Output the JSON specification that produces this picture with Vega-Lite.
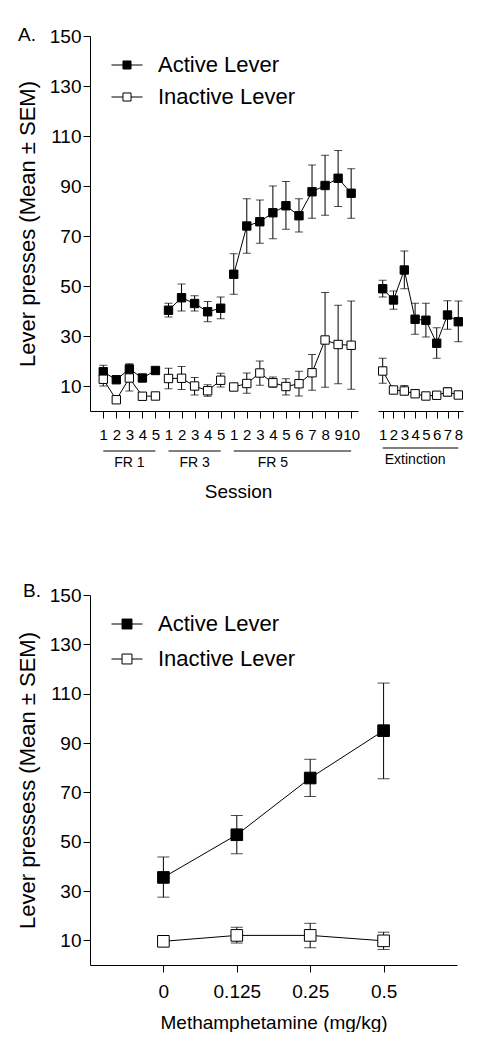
{
  "$schema": "https://vega.github.io/schema/vega-lite/v6.json",
  "background": "white",
  "padding": {"left": 16, "top": 26, "right": 0, "bottom": 0},
  "autosize": {"type": "pad"},
  "config": {
    "font": "Liberation Sans",
    "view": {"stroke": null},
    "axis": {"domainColor": "black", "tickColor": "black", "labelColor": "black", "titleColor": "black", "grid": false, "titleFontWeight": "normal", "domainWidth": 1, "tickWidth": 1},
    "title": {"fontWeight": "normal", "color": "black"},
    "text": {"color": "black"}
  },
  "datasets": {
    "A": [
      {"phase": "FR1", "session": 1, "key": "FR1|1", "lever": "Active Lever", "mean": 15.7, "lo": 13.2, "hi": 18.3},
      {"phase": "FR1", "session": 2, "key": "FR1|2", "lever": "Active Lever", "mean": 12.5, "lo": 11.5, "hi": 13.5},
      {"phase": "FR1", "session": 3, "key": "FR1|3", "lever": "Active Lever", "mean": 16.8, "lo": 14.8, "hi": 18.9},
      {"phase": "FR1", "session": 4, "key": "FR1|4", "lever": "Active Lever", "mean": 13.2, "lo": 12.2, "hi": 14.2},
      {"phase": "FR1", "session": 5, "key": "FR1|5", "lever": "Active Lever", "mean": 16.2, "lo": 15.4, "hi": 17.0},
      {"phase": "FR1", "session": 1, "key": "FR1|1", "lever": "Inactive Lever", "mean": 12.7, "lo": 10.0, "hi": 15.4},
      {"phase": "FR1", "session": 2, "key": "FR1|2", "lever": "Inactive Lever", "mean": 4.5, "lo": 3.8, "hi": 5.2},
      {"phase": "FR1", "session": 3, "key": "FR1|3", "lever": "Inactive Lever", "mean": 13.2, "lo": 8.0, "hi": 18.4},
      {"phase": "FR1", "session": 4, "key": "FR1|4", "lever": "Inactive Lever", "mean": 5.9, "lo": 5.0, "hi": 6.8},
      {"phase": "FR1", "session": 5, "key": "FR1|5", "lever": "Inactive Lever", "mean": 6.0, "lo": 5.3, "hi": 6.7},
      {"phase": "FR3", "session": 1, "key": "FR3|1", "lever": "Active Lever", "mean": 40.3, "lo": 37.6, "hi": 43.1},
      {"phase": "FR3", "session": 2, "key": "FR3|2", "lever": "Active Lever", "mean": 45.3, "lo": 40.0, "hi": 50.8},
      {"phase": "FR3", "session": 3, "key": "FR3|3", "lever": "Active Lever", "mean": 43.0, "lo": 40.0, "hi": 46.1},
      {"phase": "FR3", "session": 4, "key": "FR3|4", "lever": "Active Lever", "mean": 39.7, "lo": 35.7, "hi": 43.8},
      {"phase": "FR3", "session": 5, "key": "FR3|5", "lever": "Active Lever", "mean": 41.1, "lo": 36.9, "hi": 45.6},
      {"phase": "FR3", "session": 1, "key": "FR3|1", "lever": "Inactive Lever", "mean": 13.0, "lo": 8.9, "hi": 17.1},
      {"phase": "FR3", "session": 2, "key": "FR3|2", "lever": "Inactive Lever", "mean": 13.1, "lo": 8.6, "hi": 17.8},
      {"phase": "FR3", "session": 3, "key": "FR3|3", "lever": "Inactive Lever", "mean": 10.0, "lo": 6.4, "hi": 13.4},
      {"phase": "FR3", "session": 4, "key": "FR3|4", "lever": "Inactive Lever", "mean": 8.1, "lo": 5.9, "hi": 10.5},
      {"phase": "FR3", "session": 5, "key": "FR3|5", "lever": "Inactive Lever", "mean": 12.3, "lo": 9.6, "hi": 15.1},
      {"phase": "FR5", "session": 1, "key": "FR5|1", "lever": "Active Lever", "mean": 54.7, "lo": 46.7, "hi": 62.9},
      {"phase": "FR5", "session": 2, "key": "FR5|2", "lever": "Active Lever", "mean": 74.0, "lo": 63.1, "hi": 84.9},
      {"phase": "FR5", "session": 3, "key": "FR5|3", "lever": "Active Lever", "mean": 75.7, "lo": 67.1, "hi": 84.4},
      {"phase": "FR5", "session": 4, "key": "FR5|4", "lever": "Active Lever", "mean": 79.3, "lo": 68.9, "hi": 90.0},
      {"phase": "FR5", "session": 5, "key": "FR5|5", "lever": "Active Lever", "mean": 82.1, "lo": 72.7, "hi": 91.8},
      {"phase": "FR5", "session": 6, "key": "FR5|6", "lever": "Active Lever", "mean": 78.1, "lo": 71.6, "hi": 84.9},
      {"phase": "FR5", "session": 7, "key": "FR5|7", "lever": "Active Lever", "mean": 87.7, "lo": 77.1, "hi": 98.4},
      {"phase": "FR5", "session": 8, "key": "FR5|8", "lever": "Active Lever", "mean": 90.2, "lo": 78.3, "hi": 102.3},
      {"phase": "FR5", "session": 9, "key": "FR5|9", "lever": "Active Lever", "mean": 93.1, "lo": 81.8, "hi": 104.2},
      {"phase": "FR5", "session": 10, "key": "FR5|10", "lever": "Active Lever", "mean": 87.1, "lo": 77.1, "hi": 96.9},
      {"phase": "FR5", "session": 1, "key": "FR5|1", "lever": "Inactive Lever", "mean": 9.6, "lo": 8.6, "hi": 10.6},
      {"phase": "FR5", "session": 2, "key": "FR5|2", "lever": "Inactive Lever", "mean": 11.0, "lo": 7.1, "hi": 15.2},
      {"phase": "FR5", "session": 3, "key": "FR5|3", "lever": "Inactive Lever", "mean": 15.2, "lo": 10.3, "hi": 20.0},
      {"phase": "FR5", "session": 4, "key": "FR5|4", "lever": "Inactive Lever", "mean": 11.3, "lo": 9.5, "hi": 13.6},
      {"phase": "FR5", "session": 5, "key": "FR5|5", "lever": "Inactive Lever", "mean": 9.8, "lo": 6.4, "hi": 12.9},
      {"phase": "FR5", "session": 6, "key": "FR5|6", "lever": "Inactive Lever", "mean": 10.9, "lo": 6.0, "hi": 15.9},
      {"phase": "FR5", "session": 7, "key": "FR5|7", "lever": "Inactive Lever", "mean": 15.3, "lo": 8.3, "hi": 22.6},
      {"phase": "FR5", "session": 8, "key": "FR5|8", "lever": "Inactive Lever", "mean": 28.4, "lo": 9.5, "hi": 47.4},
      {"phase": "FR5", "session": 9, "key": "FR5|9", "lever": "Inactive Lever", "mean": 26.6, "lo": 10.9, "hi": 42.3},
      {"phase": "FR5", "session": 10, "key": "FR5|10", "lever": "Inactive Lever", "mean": 26.3, "lo": 8.7, "hi": 44.0},
      {"phase": "Extinction", "session": 1, "key": "Extinction|1", "lever": "Active Lever", "mean": 48.9, "lo": 45.6, "hi": 52.3},
      {"phase": "Extinction", "session": 2, "key": "Extinction|2", "lever": "Active Lever", "mean": 44.4, "lo": 40.7, "hi": 48.0},
      {"phase": "Extinction", "session": 3, "key": "Extinction|3", "lever": "Active Lever", "mean": 56.4, "lo": 48.9, "hi": 64.0},
      {"phase": "Extinction", "session": 4, "key": "Extinction|4", "lever": "Active Lever", "mean": 36.7, "lo": 30.7, "hi": 43.1},
      {"phase": "Extinction", "session": 5, "key": "Extinction|5", "lever": "Active Lever", "mean": 36.3, "lo": 29.6, "hi": 43.1},
      {"phase": "Extinction", "session": 6, "key": "Extinction|6", "lever": "Active Lever", "mean": 27.1, "lo": 21.1, "hi": 33.3},
      {"phase": "Extinction", "session": 7, "key": "Extinction|7", "lever": "Active Lever", "mean": 38.4, "lo": 32.7, "hi": 44.1},
      {"phase": "Extinction", "session": 8, "key": "Extinction|8", "lever": "Active Lever", "mean": 35.7, "lo": 27.7, "hi": 44.0},
      {"phase": "Extinction", "session": 1, "key": "Extinction|1", "lever": "Inactive Lever", "mean": 16.0, "lo": 11.1, "hi": 21.1},
      {"phase": "Extinction", "session": 2, "key": "Extinction|2", "lever": "Inactive Lever", "mean": 8.4, "lo": 7.4, "hi": 9.4},
      {"phase": "Extinction", "session": 3, "key": "Extinction|3", "lever": "Inactive Lever", "mean": 8.0, "lo": 6.5, "hi": 10.2},
      {"phase": "Extinction", "session": 4, "key": "Extinction|4", "lever": "Inactive Lever", "mean": 6.9, "lo": 6.1, "hi": 7.7},
      {"phase": "Extinction", "session": 5, "key": "Extinction|5", "lever": "Inactive Lever", "mean": 6.0, "lo": 5.2, "hi": 6.8},
      {"phase": "Extinction", "session": 6, "key": "Extinction|6", "lever": "Inactive Lever", "mean": 6.3, "lo": 5.5, "hi": 7.1},
      {"phase": "Extinction", "session": 7, "key": "Extinction|7", "lever": "Inactive Lever", "mean": 7.6, "lo": 6.0, "hi": 9.3},
      {"phase": "Extinction", "session": 8, "key": "Extinction|8", "lever": "Inactive Lever", "mean": 6.4, "lo": 5.6, "hi": 7.2}
    ],
    "B": [
      {"dose": "0", "lever": "Active Lever", "mean": 35.5, "lo": 27.5, "hi": 43.8},
      {"dose": "0.125", "lever": "Active Lever", "mean": 52.8, "lo": 45.1, "hi": 60.6},
      {"dose": "0.25", "lever": "Active Lever", "mean": 75.8, "lo": 68.3, "hi": 83.4},
      {"dose": "0.5", "lever": "Active Lever", "mean": 95.0, "lo": 75.5, "hi": 114.3},
      {"dose": "0", "lever": "Inactive Lever", "mean": 9.6, "lo": 8.8, "hi": 10.4},
      {"dose": "0.125", "lever": "Inactive Lever", "mean": 12.0, "lo": 8.9, "hi": 15.3},
      {"dose": "0.25", "lever": "Inactive Lever", "mean": 12.0, "lo": 7.0, "hi": 16.9},
      {"dose": "0.5", "lever": "Inactive Lever", "mean": 9.8, "lo": 6.3, "hi": 13.3}
    ],
    "brA": [
      {"label": "FR 1", "start": "FR1|1", "end": "FR1|5", "mid": "FR1|3"},
      {"label": "FR 3", "start": "FR3|1", "end": "FR3|5", "mid": "FR3|3"},
      {"label": "FR 5", "start": "FR5|1", "end": "FR5|10", "mid": "FR5|4"}
    ],
    "brE": [
      {"label": "Extinction", "start": "Extinction|1", "end": "Extinction|8", "mid": "Extinction|4"}
    ]
  },
  "resolve": {"scale": {"fill": "independent"}, "legend": {"fill": "independent"}},
  "spacing": 81,
  "vconcat": [
    {
      "spacing": 16,
      "resolve": {"scale": {"fill": "independent"}, "legend": {"fill": "independent"}},
      "hconcat": [
        {
          "spacing": 8,
          "resolve": {"scale": {"fill": "independent"}, "legend": {"fill": "independent"}},
          "vconcat": [
            {
              "width": 268,
              "height": 375,
              "title": {"text": "A.", "anchor": "start", "frame": "group", "dx": -72, "offset": -18, "fontSize": 19},
              "data": {"name": "A"},
              "transform": [{"filter": "datum.phase != 'Extinction'"}],
              "encoding": {
                "x": {"field": "key", "type": "nominal",
                  "scale": {"type": "point", "domain": ["FR1|1","FR1|2","FR1|3","FR1|4","FR1|5","FR3|1","FR3|2","FR3|3","FR3|4","FR3|5","FR5|1","FR5|2","FR5|3","FR5|4","FR5|5","FR5|6","FR5|7","FR5|8","FR5|9","FR5|10"], "padding": 0.77, "align": 0.66},
                  "axis": {"labelExpr": "split(datum.value, '|')[1]", "labelAngle": 0, "tickSize": 7, "labelPadding": 9, "labelFontSize": 15, "title": null}},
                "y": {"field": "mean", "type": "quantitative",
                  "scale": {"domain": [0, 150], "nice": false, "zero": false},
                  "axis": {"values": [10, 30, 50, 70, 90, 110, 130, 150], "tickSize": 7, "labelPadding": 2, "labelFontSize": 19, "title": "Lever presses (Mean ± SEM)", "titleFontSize": 22, "titlePadding": 10}}
              },
              "layer": [
                {"mark": {"type": "line", "color": "black", "strokeWidth": 1},
                 "encoding": {"detail": [{"field": "lever"}, {"field": "phase"}], "order": {"field": "session", "type": "quantitative"}}},
                {"mark": {"type": "rule", "color": "black", "strokeWidth": 1},
                 "encoding": {"y": {"field": "lo", "type": "quantitative"}, "y2": {"field": "hi"}}},
                {"mark": {"type": "tick", "color": "black", "thickness": 1, "size": 8},
                 "encoding": {"y": {"field": "lo", "type": "quantitative"}}},
                {"mark": {"type": "tick", "color": "black", "thickness": 1, "size": 8},
                 "encoding": {"y": {"field": "hi", "type": "quantitative"}}},
                {"mark": {"type": "point", "shape": "square", "filled": true, "stroke": "black", "strokeWidth": 1, "size": 70, "opacity": 1},
                 "encoding": {"fill": {"field": "lever", "type": "nominal",
                   "scale": {"domain": ["Active Lever", "Inactive Lever"], "range": ["black", "white"]},
                   "legend": {"orient": "none", "legendX": 21, "legendY": 13, "title": null, "padding": 0,
                     "symbolType": "M-1,0H-0.26M0.26,0H1M-0.26,-0.26H0.26V0.26H-0.26Z", "symbolSize": 961,
                     "symbolStrokeColor": "black", "symbolStrokeWidth": 1, "labelFontSize": 22, "labelOffset": 15,
                     "rowPadding": 5, "labelColor": "black", "labelLimit": 300}}}}
              ]
            },
            {
              "width": 268,
              "height": 12,
              "data": {"name": "brA"},
              "layer": [
                {"mark": {"type": "rule", "color": "black", "strokeWidth": 1},
                 "encoding": {
                   "x": {"field": "start", "type": "nominal",
                     "scale": {"type": "point", "domain": ["FR1|1","FR1|2","FR1|3","FR1|4","FR1|5","FR3|1","FR3|2","FR3|3","FR3|4","FR3|5","FR5|1","FR5|2","FR5|3","FR5|4","FR5|5","FR5|6","FR5|7","FR5|8","FR5|9","FR5|10"], "padding": 0.77, "align": 0.66},
                     "axis": {"domain": false, "ticks": false, "labels": false, "title": "Session", "titleFontSize": 19, "titlePadding": 19, "titleX": 148}},
                   "x2": {"field": "end"},
                   "y": {"datum": 1, "type": "quantitative", "scale": {"domain": [0, 1], "nice": false}, "axis": null}}},
                {"mark": {"type": "text", "fontSize": 14, "baseline": "middle", "align": "center"},
                 "encoding": {
                   "x": {"field": "mid", "type": "nominal",
                     "scale": {"type": "point", "domain": ["FR1|1","FR1|2","FR1|3","FR1|4","FR1|5","FR3|1","FR3|2","FR3|3","FR3|4","FR3|5","FR5|1","FR5|2","FR5|3","FR5|4","FR5|5","FR5|6","FR5|7","FR5|8","FR5|9","FR5|10"], "padding": 0.77, "align": 0.66},
                     "axis": {"domain": false, "ticks": false, "labels": false, "title": "Session", "titleFontSize": 19, "titlePadding": 19, "titleX": 148}},
                   "y": {"datum": 0, "type": "quantitative", "scale": {"domain": [0, 1], "nice": false}, "axis": null},
                   "text": {"field": "label"}}}
              ]
            }
          ]
        },
        {
          "spacing": 5,
          "resolve": {"scale": {"fill": "independent"}, "legend": {"fill": "independent"}},
          "vconcat": [
            {
              "width": 85,
              "height": 375,
              "data": {"name": "A"},
              "transform": [{"filter": "datum.phase == 'Extinction'"}],
              "encoding": {
                "x": {"field": "key", "type": "nominal",
                  "scale": {"type": "point", "domain": ["Extinction|1","Extinction|2","Extinction|3","Extinction|4","Extinction|5","Extinction|6","Extinction|7","Extinction|8"], "padding": 0.435},
                  "axis": {"labelExpr": "split(datum.value, '|')[1]", "labelAngle": 0, "tickSize": 7, "labelPadding": 9, "labelFontSize": 15, "title": null}},
                "y": {"field": "mean", "type": "quantitative",
                  "scale": {"domain": [0, 150], "nice": false, "zero": false}, "axis": null}
              },
              "layer": [
                {"mark": {"type": "line", "color": "black", "strokeWidth": 1},
                 "encoding": {"detail": {"field": "lever"}, "order": {"field": "session", "type": "quantitative"}}},
                {"mark": {"type": "rule", "color": "black", "strokeWidth": 1},
                 "encoding": {"y": {"field": "lo", "type": "quantitative"}, "y2": {"field": "hi"}}},
                {"mark": {"type": "tick", "color": "black", "thickness": 1, "size": 8},
                 "encoding": {"y": {"field": "lo", "type": "quantitative"}}},
                {"mark": {"type": "tick", "color": "black", "thickness": 1, "size": 8},
                 "encoding": {"y": {"field": "hi", "type": "quantitative"}}},
                {"mark": {"type": "point", "shape": "square", "filled": true, "stroke": "black", "strokeWidth": 1, "size": 70, "opacity": 1},
                 "encoding": {"fill": {"field": "lever", "type": "nominal",
                   "scale": {"domain": ["Active Lever", "Inactive Lever"], "range": ["black", "white"]}, "legend": null}}}
              ]
            },
            {
              "width": 85,
              "height": 12,
              "data": {"name": "brE"},
              "layer": [
                {"mark": {"type": "rule", "color": "black", "strokeWidth": 1},
                 "encoding": {
                   "x": {"field": "start", "type": "nominal",
                     "scale": {"type": "point", "domain": ["Extinction|1","Extinction|2","Extinction|3","Extinction|4","Extinction|5","Extinction|6","Extinction|7","Extinction|8"], "padding": 0.435}, "axis": null},
                   "x2": {"field": "end"},
                   "y": {"datum": 1, "type": "quantitative", "scale": {"domain": [0, 1], "nice": false}, "axis": null}}},
                {"mark": {"type": "text", "fontSize": 14, "baseline": "middle", "align": "center"},
                 "encoding": {
                   "x": {"field": "mid", "type": "nominal",
                     "scale": {"type": "point", "domain": ["Extinction|1","Extinction|2","Extinction|3","Extinction|4","Extinction|5","Extinction|6","Extinction|7","Extinction|8"], "padding": 0.435}, "axis": null},
                   "y": {"datum": 0, "type": "quantitative", "scale": {"domain": [0, 1], "nice": false}, "axis": null},
                   "text": {"field": "label"}}}
              ]
            }
          ]
        }
      ]
    },
    {
      "width": 367,
      "height": 370,
      "title": {"text": "B.", "anchor": "start", "frame": "group", "dx": -67, "offset": -15, "fontSize": 19},
      "data": {"name": "B"},
      "encoding": {
        "x": {"field": "dose", "type": "nominal",
          "scale": {"type": "point", "domain": ["0", "0.125", "0.25", "0.5"], "padding": 1},
          "axis": {"labelAngle": 0, "tickSize": 7, "labelPadding": 10, "labelFontSize": 19, "title": "Methamphetamine (mg/kg)", "titleFontSize": 19, "titlePadding": 12}},
        "y": {"field": "mean", "type": "quantitative",
          "scale": {"domain": [0, 150], "nice": false, "zero": false},
          "axis": {"values": [10, 30, 50, 70, 90, 110, 130, 150], "tickSize": 7, "labelPadding": 2, "labelFontSize": 19, "title": "Lever pressess (Mean ± SEM)", "titleFontSize": 22, "titlePadding": 10}}
      },
      "layer": [
        {"mark": {"type": "line", "color": "black", "strokeWidth": 1},
         "encoding": {"detail": {"field": "lever"}}},
        {"mark": {"type": "rule", "color": "black", "strokeWidth": 1},
         "encoding": {"y": {"field": "lo", "type": "quantitative"}, "y2": {"field": "hi"}}},
        {"mark": {"type": "tick", "color": "black", "thickness": 1, "size": 12},
         "encoding": {"y": {"field": "lo", "type": "quantitative"}}},
        {"mark": {"type": "tick", "color": "black", "thickness": 1, "size": 12},
         "encoding": {"y": {"field": "hi", "type": "quantitative"}}},
        {"mark": {"type": "point", "shape": "square", "filled": true, "stroke": "black", "strokeWidth": 1, "size": 135, "opacity": 1},
         "encoding": {"fill": {"field": "lever", "type": "nominal",
           "scale": {"domain": ["Active Lever", "Inactive Lever"], "range": ["black", "white"]},
           "legend": {"orient": "none", "legendX": 21, "legendY": 13, "title": null, "padding": 0,
             "symbolType": "M-1,0H-0.32M0.32,0H1M-0.32,-0.32H0.32V0.32H-0.32Z", "symbolSize": 961,
             "symbolStrokeColor": "black", "symbolStrokeWidth": 1, "labelFontSize": 22, "labelOffset": 15,
             "rowPadding": 8, "labelColor": "black", "labelLimit": 300}}}}
      ]
    }
  ]
}
